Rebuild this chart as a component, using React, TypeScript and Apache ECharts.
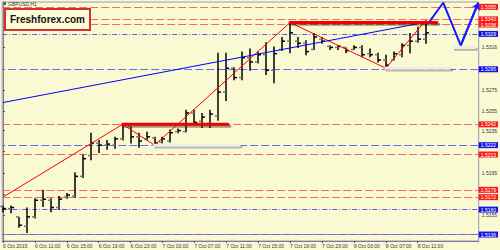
import React, { useEffect, useRef } from "react";
import * as echarts from "echarts";

// ---- data ----
const xTickIndex = [0, 4, 8, 12, 16, 20, 24, 28, 32, 36, 40, 44, 48, 52];
const xTickLabels = [
  "6 Oct 2015", "6 Oct 11:00", "6 Oct 15:00", "6 Oct 19:00", "6 Oct 23:00",
  "7 Oct 03:00", "7 Oct 07:00", "7 Oct 11:00", "7 Oct 15:00", "7 Oct 19:00",
  "7 Oct 23:00", "8 Oct 03:00", "8 Oct 07:00", "8 Oct 11:00",
];

const opens = [
  1.5163, 1.5161, 1.5153, 1.5144, 1.5153, 1.5169, 1.5169, 1.5162, 1.5172, 1.5173,
  1.5192, 1.5212, 1.5224, 1.5222, 1.5222, 1.5228, 1.5240, 1.5230, 1.5228, 1.5229,
  1.5225, 1.5226, 1.5235, 1.5235, 1.5253, 1.5245, 1.5243, 1.5250, 1.5273, 1.5296,
  1.5287, 1.5306, 1.5302, 1.5309, 1.5294, 1.5314, 1.5322, 1.5322, 1.5320, 1.5314,
  1.5324, 1.5317, 1.5316, 1.5316, 1.5314, 1.5316, 1.5310, 1.5309, 1.5304, 1.5304,
  1.5309, 1.5318, 1.5322, 1.5324,
];
const highs = [
  1.5164, 1.5164, 1.5153, 1.5162, 1.5171, 1.5179, 1.5171, 1.5173, 1.5176, 1.5196,
  1.5213, 1.5234, 1.5227, 1.5227, 1.5230, 1.5243, 1.5240, 1.5234, 1.5235, 1.5230,
  1.5230, 1.5237, 1.5238, 1.5256, 1.5256, 1.5253, 1.5256, 1.5311, 1.5311, 1.5297,
  1.5312, 1.5315, 1.5312, 1.5321, 1.5317, 1.5326, 1.5340, 1.5326, 1.5323, 1.5330,
  1.5326, 1.5318, 1.5318, 1.5316, 1.5318, 1.5318, 1.5315, 1.5311, 1.5309, 1.5312,
  1.5320, 1.5330, 1.5336, 1.5342,
];
const lows = [
  1.5158, 1.5157, 1.5143, 1.5138, 1.5152, 1.5163, 1.5158, 1.5160, 1.5171, 1.5172,
  1.5191, 1.5208, 1.5215, 1.5218, 1.5219, 1.5227, 1.5224, 1.5220, 1.5227, 1.5222,
  1.5224, 1.5225, 1.5234, 1.5235, 1.5243, 1.5239, 1.5239, 1.5246, 1.5265, 1.5285,
  1.5285, 1.5294, 1.5301, 1.5290, 1.5282, 1.5313, 1.5311, 1.5316, 1.5309, 1.5314,
  1.5320, 1.5314, 1.5314, 1.5311, 1.5314, 1.5307, 1.5307, 1.5302, 1.5296, 1.5304,
  1.5307, 1.5311, 1.5321, 1.5320,
];
const closes = [
  1.5161, 1.5162, 1.5145, 1.5153, 1.5169, 1.5170, 1.5162, 1.5170, 1.5174, 1.5192,
  1.5209, 1.5224, 1.5222, 1.5223, 1.5228, 1.5242, 1.5230, 1.5226, 1.5230, 1.5224,
  1.5228, 1.5234, 1.5236, 1.5253, 1.5244, 1.5249, 1.5252, 1.5273, 1.5296, 1.5287,
  1.5306, 1.5302, 1.5309, 1.5294, 1.5310, 1.5322, 1.5330, 1.5320, 1.5312, 1.5326,
  1.5322, 1.5316, 1.5317, 1.5313, 1.5316, 1.5309, 1.5309, 1.5304, 1.5299, 1.5310,
  1.5318, 1.5322, 1.5324, 1.5330,
];

const zigzagIdx = [0, 15, 19, 36, 48, 53];
const zigzagVal = [1.5172, 1.5242, 1.5222, 1.5340, 1.5296, 1.5342];

const trendIdx = [0, 53.5];
const trendVal = [1.5263, 1.5341];

const forecastIdx = [53.5, 55.2, 57.4, 59.6];
const forecastVal = [1.5341, 1.5359, 1.5318, 1.5359];

const redSegFrom = [15, 36];
const redSegTo = [28.2, 54.4];
const redSegVal = [1.5242, 1.5340];

const graySegFrom = [19, 48, 56.6];
const graySegTo = [29.6, 56, 59.1];
const graySegVal = [1.5222, 1.5296, 1.5316];

const redDashLevels = [1.5355, 1.5343, 1.5338, 1.5242, 1.5213, 1.5179, 1.5172, 1.5136];
const blueDashLevels = [1.5295, 1.5222, 1.5136];
const blueDashDotLevels = [1.5329, 1.5160];

const yLabelValues = [1.5155, 1.5195, 1.5236, 1.5255, 1.5275, 1.5316];
const yTickValues = [1.5136, 1.5155, 1.5175, 1.5195, 1.5216, 1.5236, 1.5255, 1.5275, 1.5295, 1.5316, 1.5335, 1.5355];

const Y_MIN = 1.51298;
const Y_MAX = 1.53597;

export default function App() {
  const ref = useRef<HTMLDivElement>(null);

  useEffect(() => {
    if (!ref.current) return;
    const chart = echarts.init(ref.current, null, { renderer: "svg" });

    const ohlc = opens.map((o, i) => [i, o, highs[i], lows[i], closes[i]]);

    const levelLabel = (bg: string, show: boolean) => ({
      show,
      position: "end",
      distance: 0,
      formatter: (p: any) => Number(p.value).toFixed(4),
      backgroundColor: bg,
      color: "#ffffff",
      fontSize: 5,
      fontFamily: "Liberation Sans",
      padding: [1, 2, 0, 2],
      lineHeight: 5,
    });

    const markData: any[] = [
      ...redDashLevels.map((v) => ({
        yAxis: v,
        lineStyle: { color: "#f26a6a", type: [8, 3], width: 1 },
        label: levelLabel("#ff1a1a", !blueDashLevels.includes(v)),
      })),
      ...blueDashLevels.map((v) => ({
        yAxis: v,
        lineStyle: { color: "#6a6ae6", type: [8, 3], width: 1, dashOffset: 5 },
        label: levelLabel("#1414e6", true),
      })),
      ...blueDashDotLevels.map((v) => ({
        yAxis: v,
        lineStyle: { color: "#5a5ae6", type: [5, 2, 1, 2], width: 1.2 },
        label: levelLabel("#1414e6", true),
      })),
    ];

    const segData = [
      ...redSegFrom.map((f, k) => [f, redSegTo[k], redSegVal[k], 0]),
      ...graySegFrom.map((f, k) => [f, graySegTo[k], graySegVal[k], 1]),
    ];

    chart.setOption({
      animation: false,
      backgroundColor: "#FAFAD2",
      grid: {
        left: 2,
        right: 20,
        top: 2,
        bottom: 9,
        show: true,
        borderColor: "#9a9ab0",
        borderWidth: 1,
        containLabel: false,
      },
      xAxis: {
        type: "value",
        min: -0.1,
        max: 59.65,
        splitLine: { show: false },
        axisLine: { show: true, lineStyle: { color: "#7878a8" } },
        axisTick: { show: true, customValues: xTickIndex, length: 2, lineStyle: { color: "#555" } },
        axisLabel: {
          customValues: xTickIndex,
          formatter: (v: number) => {
            const k = xTickIndex.indexOf(Math.round(v));
            return k >= 0 ? xTickLabels[k] : "";
          },
          align: "left",
          fontSize: 5,
          fontFamily: "Liberation Sans",
          color: "#333344",
          margin: 2,
        },
      },
      yAxis: {
        type: "value",
        position: "right",
        min: Y_MIN,
        max: Y_MAX,
        scale: true,
        splitLine: { show: false },
        axisLine: { show: true, lineStyle: { color: "#7878a8" } },
        axisTick: { show: true, customValues: yTickValues, length: 2, lineStyle: { color: "#555" } },
        axisLabel: {
          customValues: yLabelValues,
          formatter: (v: number) => v.toFixed(4),
          fontSize: 5,
          fontFamily: "Liberation Sans",
          color: "#333344",
          margin: 3,
        },
      },
      graphic: [
        { type: "rect", shape: { x: 3, y: 2, width: 3, height: 3 }, style: { fill: "#556" } },
        {
          type: "text",
          x: 8,
          y: 1,
          style: { text: "GBPUSD,H1", fontSize: 5, fontFamily: "Liberation Sans", fill: "#334" },
          z: 100,
        },
        {
          type: "rect",
          shape: { x: 6, y: 10, width: 85, height: 21 },
          style: { fill: "rgba(0,0,0,0.25)" },
          z: 99,
        },
        {
          type: "rect",
          shape: { x: 5, y: 9, width: 85, height: 21 },
          style: {
            fill: "#fffcd8",
            stroke: "#d83030",
            lineWidth: 2,
          },
          z: 100,
        },
        {
          type: "text",
          x: 47.5,
          y: 19.5,
          style: {
            text: "Freshforex.com",
            fontSize: 10,
            fontWeight: "bold",
            fontFamily: "Liberation Sans",
            fill: "#111",
            align: "center",
            verticalAlign: "middle",
          },
          z: 101,
        },
      ],
      series: [
        {
          type: "line",
          data: zigzagIdx.map((x, i) => [x, zigzagVal[i]]),
          symbol: "none",
          silent: true,
          z: 3,
          lineStyle: { color: "#ff0000", width: 1 },
          markLine: {
            silent: true,
            symbol: "none",
            animation: false,
            precision: 4,
            z: 1,
            data: markData,
          },
        },
        {
          type: "custom",
          data: ohlc,
          silent: true,
          z: 2,
          encode: { x: 0, y: [1, 2, 3, 4] },
          renderItem: (params: any, api: any) => {
            const i = api.value(0);
            const pO = api.coord([i, api.value(1)]);
            const pH = api.coord([i, api.value(2)]);
            const pL = api.coord([i, api.value(3)]);
            const pC = api.coord([i, api.value(4)]);
            const x = Math.round(pH[0]);
            return {
              type: "group",
              children: [
                { type: "line", shape: { x1: x, y1: pH[1], x2: x, y2: pL[1] + 0.5 }, style: { stroke: "#000", lineWidth: 1.5 } },
                { type: "line", shape: { x1: x - 3, y1: pO[1], x2: x, y2: pO[1] }, style: { stroke: "#777", lineWidth: 1.5 } },
                { type: "line", shape: { x1: x, y1: pC[1], x2: x + 3, y2: pC[1] }, style: { stroke: "#000", lineWidth: 1.5 } },
              ],
            };
          },
        },
        {
          type: "line",
          data: trendIdx.map((x, i) => [x, trendVal[i]]),
          symbol: "none",
          silent: true,
          z: 3,
          lineStyle: { color: "#0000ff", width: 1 },
        },
        {
          type: "custom",
          data: segData,
          silent: true,
          z: 4,
          encode: { x: [0, 1], y: 2 },
          renderItem: (params: any, api: any) => {
            const p1 = api.coord([api.value(0), api.value(2)]);
            const p2 = api.coord([api.value(1), api.value(2)]);
            const red = api.value(3) === 0;
            return {
              type: "group",
              children: [
                {
                  type: "line",
                  shape: { x1: p1[0] + 1, y1: p1[1] + 1.8, x2: p2[0] + 2, y2: p2[1] + 1.8 },
                  style: { stroke: red ? "rgba(70,20,0,0.45)" : "rgba(60,60,40,0.35)", lineWidth: 3, lineCap: "round" },
                },
                {
                  type: "line",
                  shape: { x1: p1[0], y1: p1[1], x2: p2[0], y2: p2[1] },
                  style: { stroke: red ? "#ee0000" : "#ececea", lineWidth: 3, lineCap: "round" },
                },
              ],
            };
          },
        },
        {
          type: "line",
          data: forecastIdx.map((x, i) => [x, forecastVal[i]]),
          symbol: "none",
          silent: true,
          clip: false,
          z: 5,
          lineStyle: { color: "#1a1aff", width: 2 },
          markLine: {
            silent: true,
            symbol: ["none", "arrow"],
            symbolSize: 7,
            animation: false,
            precision: 4,
            label: { show: false },
            lineStyle: { color: "#1a1aff", width: 2, type: "solid" },
            data: [
              [
                { coord: [forecastIdx[2], forecastVal[2]] },
                { coord: [forecastIdx[3], forecastVal[3]] },
              ],
            ],
          },
        },
      ],
    });

    return () => chart.dispose();
  }, []);

  return (
    <div
      ref={ref}
      style={{ position: "fixed", left: 0, top: 0, width: 500, height: 250 }}
    />
  );
}
